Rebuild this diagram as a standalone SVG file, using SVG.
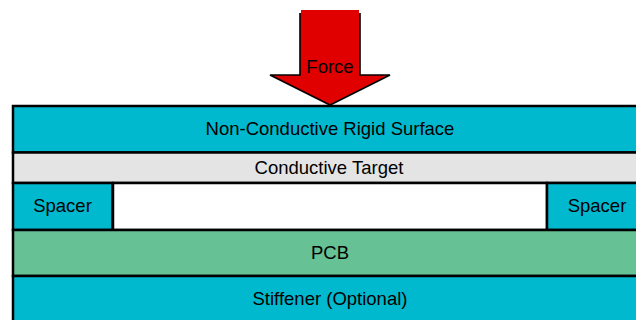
<svg xmlns="http://www.w3.org/2000/svg" width="636" height="320" viewBox="0 0 636 320">
<style>
.l{stroke:#000;stroke-width:2.5}
.c{fill:#00b9cf}
.t{font-family:"Liberation Sans",Arial,sans-serif;font-size:18.500px;fill:#000;text-anchor:middle}
</style>
<rect width="636" height="320" fill="#fff"/>
<g id="surface"><rect class="l c" x="13" y="106" width="625" height="46.500"/><text class="t" x="330" y="134.500">Non-Conductive Rigid Surface</text></g>
<g id="target"><rect class="l" x="13" y="152.500" width="625" height="30.500" fill="#e4e4e4"/><text class="t" x="329" y="173.500">Conductive Target</text></g>
<g id="gap"><rect x="113" y="183" width="434" height="47" fill="#fff" class="l"/></g>
<g id="spacer-left"><rect class="l c" x="13" y="183" width="99.500" height="47"/><text class="t" x="62.500" y="211.500">Spacer</text></g>
<g id="spacer-right"><rect class="l c" x="547" y="183" width="91" height="47"/><text class="t" x="597" y="211.500">Spacer</text></g>
<g id="pcb"><rect class="l" x="13" y="230" width="625" height="46" fill="#66c194"/><text class="t" x="330" y="258.500">PCB</text></g>
<g id="stiffener"><rect class="l c" x="13" y="276" width="625" height="46"/><text class="t" x="330" y="304.500">Stiffener (Optional)</text></g>
<g id="force">
<path d="M300 13V75H270L330 105L390 75H360V13" fill="#e00000" stroke="#000" stroke-width="1.600"/>
<rect x="301" y="10" width="58" height="4" fill="#e00000"/>
<text class="t" x="330" y="72.500">Force</text>
</g>
<g id="connectors"></g>
</svg>
